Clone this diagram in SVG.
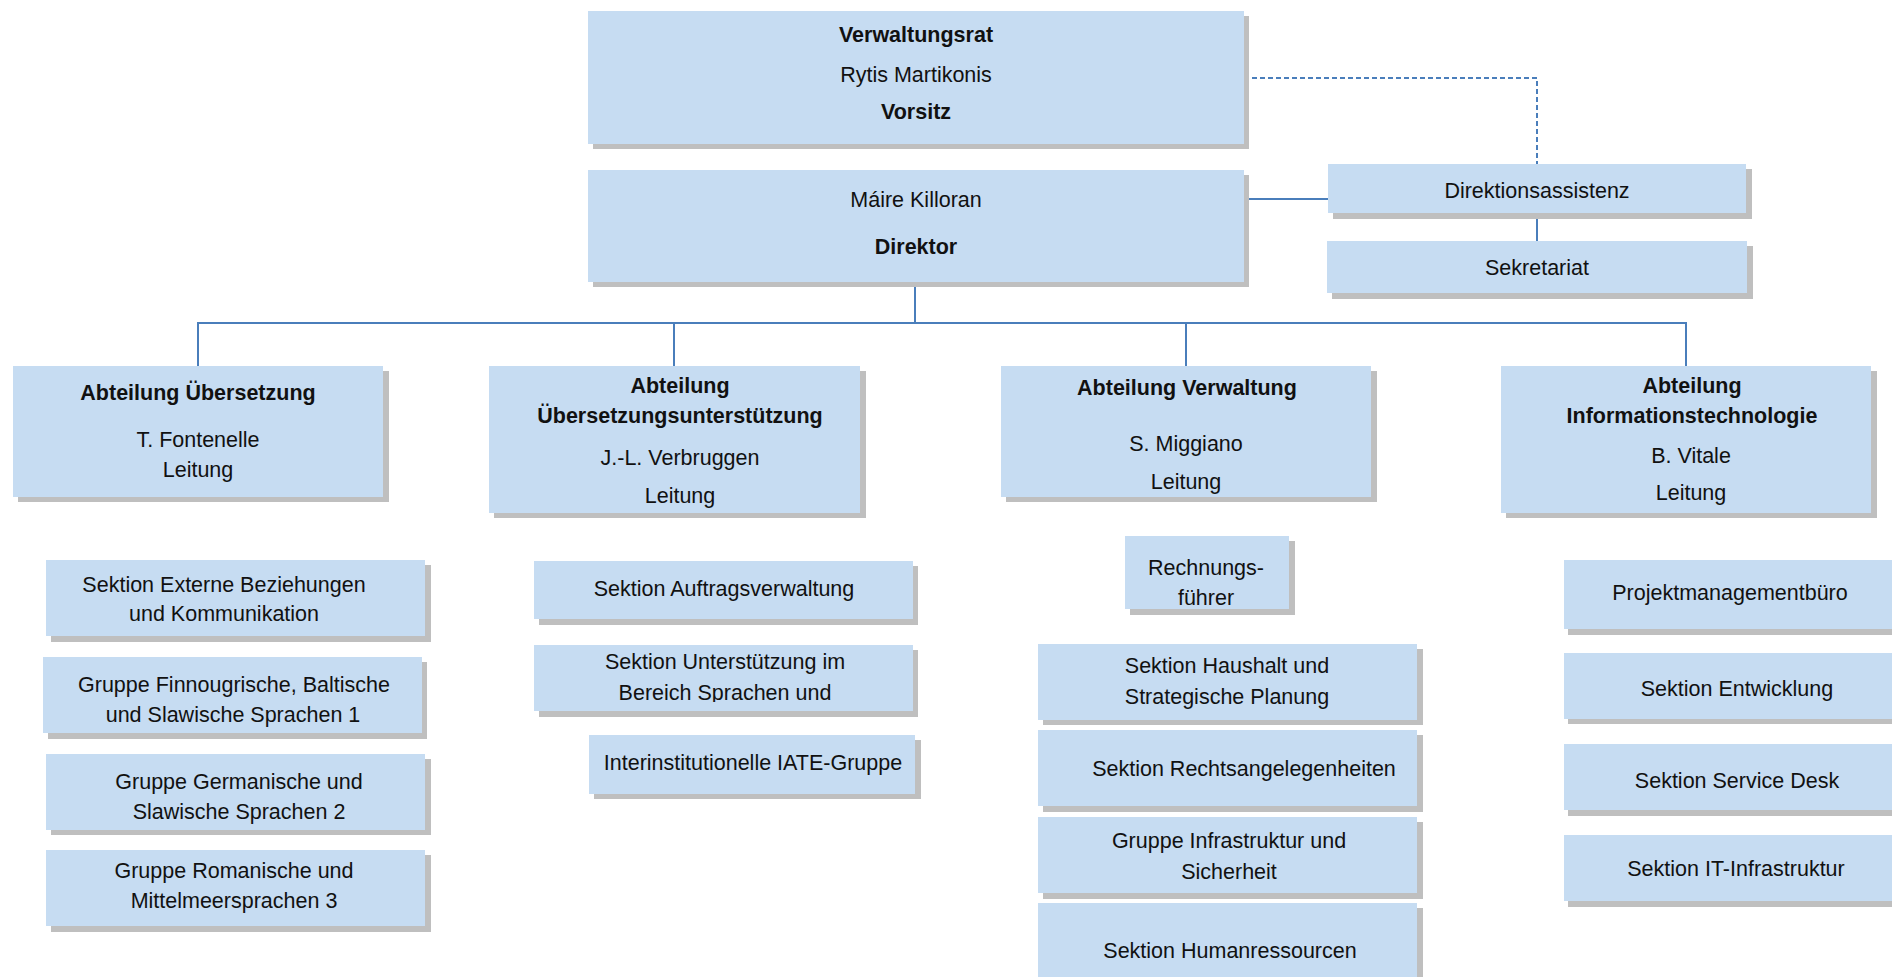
<svg xmlns="http://www.w3.org/2000/svg" width="1892" height="977" viewBox="0 0 1892 977">
<style>
.sh{fill:#bfbfbf}
.bx{fill:#c6dcf2}
text{font-family:"Liberation Sans",Arial,sans-serif;font-size:21.5px;fill:#111;text-anchor:middle}
.b{font-weight:bold}
.ln{stroke:#4a7ebb;stroke-width:2;fill:none}
.dash{stroke:#4a7ebb;stroke-width:2;fill:none;stroke-dasharray:5 3}
</style>
<defs>
<clipPath id="clipU"><rect x="534" y="645" width="379" height="57"/></clipPath>
</defs>
<rect width="1892" height="977" fill="#fff"/>
<g id="connectors">
<path class="dash" d="M1244 78 H1537 V164"/>
<path class="ln" d="M1244 199 H1328"/>
<path class="ln" d="M1537 213 V241"/>
<path class="ln" d="M915 282 V323"/>
<path class="ln" d="M198 366 V323 H1686 V366"/>
<path class="ln" d="M674 323 V366"/>
<path class="ln" d="M1186 323 V366"/>
</g>
<g id="verwaltungsrat">
<rect class="sh" x="593" y="16" width="656" height="133"/>
<rect class="bx" x="588" y="11" width="656" height="133"/>
<text class="b" x="916" y="42">Verwaltungsrat</text>
<text x="916" y="82">Rytis Martikonis</text>
<text class="b" x="916" y="119">Vorsitz</text>
</g>
<g id="direktor">
<rect class="sh" x="593" y="175" width="656" height="112"/>
<rect class="bx" x="588" y="170" width="656" height="112"/>
<text x="916" y="207">Máire Killoran</text>
<text class="b" x="916" y="254">Direktor</text>
</g>
<g id="direktionsassistenz">
<rect class="sh" x="1333" y="169" width="419" height="50"/>
<rect class="bx" x="1328" y="164" width="418" height="49"/>
<text x="1537" y="198">Direktionsassistenz</text>
</g>
<g id="sekretariat">
<rect class="sh" x="1332" y="246" width="421" height="53"/>
<rect class="bx" x="1327" y="241" width="420" height="52"/>
<text x="1537" y="275">Sekretariat</text>
</g>
<g id="abt-uebersetzung">
<rect class="sh" x="18" y="371" width="371" height="131"/>
<rect class="bx" x="13" y="366" width="370" height="131"/>
<text class="b" x="198" y="400">Abteilung Übersetzung</text>
<text x="198" y="447">T. Fontenelle</text>
<text x="198" y="477">Leitung</text>
</g>
<g id="abt-uebersetzungsunterstuetzung">
<rect class="sh" x="494" y="371" width="372" height="147"/>
<rect class="bx" x="489" y="366" width="371" height="147"/>
<text class="b" x="680" y="393">Abteilung</text>
<text class="b" x="680" y="423">Übersetzungsunterstützung</text>
<text x="680" y="465">J.-L. Verbruggen</text>
<text x="680" y="503">Leitung</text>
</g>
<g id="abt-verwaltung">
<rect class="sh" x="1006" y="371" width="371" height="131"/>
<rect class="bx" x="1001" y="366" width="370" height="131"/>
<text class="b" x="1187" y="395">Abteilung Verwaltung</text>
<text x="1186" y="451">S. Miggiano</text>
<text x="1186" y="489">Leitung</text>
</g>
<g id="abt-it">
<rect class="sh" x="1506" y="371" width="371" height="147"/>
<rect class="bx" x="1501" y="366" width="370" height="147"/>
<text class="b" x="1692" y="393">Abteilung</text>
<text class="b" x="1692" y="423">Informationstechnologie</text>
<text x="1691" y="463">B. Vitale</text>
<text x="1691" y="500">Leitung</text>
</g>
<g id="sek-externe">
<rect class="sh" x="51" y="565" width="380" height="77"/>
<rect class="bx" x="46" y="560" width="379" height="76"/>
<text x="224" y="592">Sektion Externe Beziehungen</text>
<text x="224" y="621">und Kommunikation</text>
</g>
<g id="grp-finnougrisch">
<rect class="sh" x="48" y="662" width="379" height="77"/>
<rect class="bx" x="43" y="657" width="379" height="76"/>
<text x="234" y="692">Gruppe Finnougrische, Baltische</text>
<text x="233" y="722">und Slawische Sprachen 1</text>
</g>
<g id="grp-germanisch">
<rect class="sh" x="51" y="759" width="380" height="76"/>
<rect class="bx" x="46" y="754" width="379" height="76"/>
<text x="239" y="789">Gruppe Germanische und</text>
<text x="239" y="819">Slawische Sprachen 2</text>
</g>
<g id="grp-romanisch">
<rect class="sh" x="51" y="855" width="380" height="77"/>
<rect class="bx" x="46" y="850" width="379" height="76"/>
<text x="234" y="878">Gruppe Romanische und</text>
<text x="234" y="908">Mittelmeersprachen 3</text>
</g>
<g id="sek-auftrag">
<rect class="sh" x="539" y="566" width="379" height="59"/>
<rect class="bx" x="534" y="561" width="379" height="58"/>
<text x="724" y="596">Sektion Auftragsverwaltung</text>
</g>
<g id="sek-unterstuetzung">
<rect class="sh" x="539" y="650" width="379" height="67"/>
<rect class="bx" x="534" y="645" width="379" height="66"/>
<text x="725" y="669">Sektion Unterstützung im</text>
<text x="725" y="700" clip-path="url(#clipU)">Bereich Sprachen und</text>
</g>
<g id="grp-iate">
<rect class="sh" x="594" y="740" width="327" height="59"/>
<rect class="bx" x="589" y="735" width="326" height="59"/>
<text x="753" y="770">Interinstitutionelle IATE-Gruppe</text>
</g>
<g id="rechnungsfuehrer">
<rect class="sh" x="1130" y="541" width="165" height="74"/>
<rect class="bx" x="1125" y="536" width="164" height="73"/>
<text x="1206" y="575">Rechnungs-</text>
<text x="1206" y="605">führer</text>
</g>
<g id="sek-haushalt">
<rect class="sh" x="1043" y="649" width="380" height="76"/>
<rect class="bx" x="1038" y="644" width="379" height="76"/>
<text x="1227" y="673">Sektion Haushalt und</text>
<text x="1227" y="704">Strategische Planung</text>
</g>
<g id="sek-recht">
<rect class="sh" x="1043" y="735" width="380" height="77"/>
<rect class="bx" x="1038" y="730" width="379" height="76"/>
<text x="1244" y="776">Sektion Rechtsangelegenheiten</text>
</g>
<g id="grp-infrastruktur">
<rect class="sh" x="1043" y="822" width="380" height="77"/>
<rect class="bx" x="1038" y="817" width="379" height="76"/>
<text x="1229" y="848">Gruppe Infrastruktur und</text>
<text x="1229" y="879">Sicherheit</text>
</g>
<g id="sek-hr">
<rect class="sh" x="1043" y="908" width="380" height="80"/>
<rect class="bx" x="1038" y="903" width="379" height="80"/>
<text x="1230" y="958">Sektion Humanressourcen</text>
</g>
<g id="pmb">
<rect class="sh" x="1568" y="565" width="340" height="70"/>
<rect class="bx" x="1564" y="560" width="340" height="69"/>
<text x="1730" y="600">Projektmanagementbüro</text>
</g>
<g id="sek-entwicklung">
<rect class="sh" x="1568" y="658" width="340" height="66"/>
<rect class="bx" x="1564" y="653" width="340" height="66"/>
<text x="1737" y="696">Sektion Entwicklung</text>
</g>
<g id="sek-servicedesk">
<rect class="sh" x="1568" y="749" width="340" height="67"/>
<rect class="bx" x="1564" y="744" width="340" height="66"/>
<text x="1737" y="788">Sektion Service Desk</text>
</g>
<g id="sek-itinfra">
<rect class="sh" x="1568" y="840" width="340" height="67"/>
<rect class="bx" x="1564" y="835" width="340" height="66"/>
<text x="1736" y="876">Sektion IT-Infrastruktur</text>
</g>
</svg>
